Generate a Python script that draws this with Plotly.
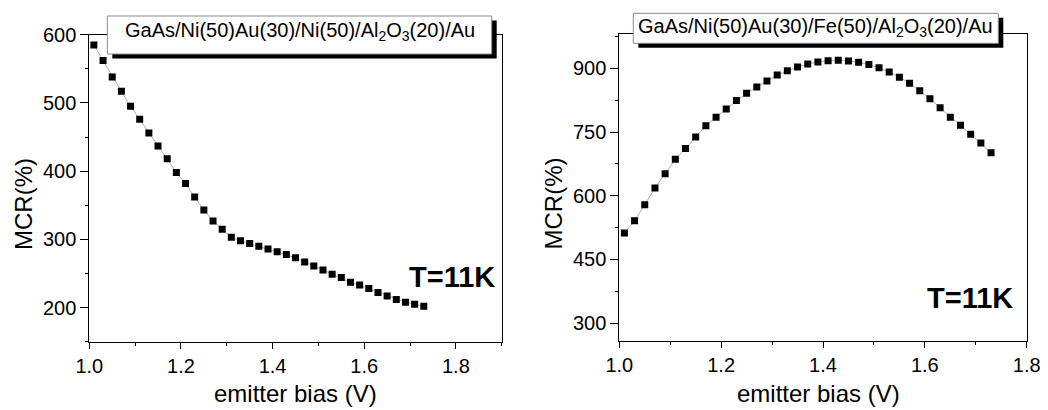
import plotly.graph_objects as go

W, H = 1048, 410

bias_left = [round(1.01 + 0.02 * i, 2) for i in range(37)]
mcr_left = [585, 562, 538, 517, 495, 476, 456, 437, 418, 398, 382, 362, 343, 327,
            315, 303, 298, 294, 290, 286, 282, 278, 273, 267, 261, 255, 249, 244,
            237, 233, 228, 222, 217, 212, 208, 205, 202]

bias_right = [round(1.01 + 0.02 * i, 2) for i in range(37)]
mcr_right = [512, 541, 579, 618, 652, 686, 711, 738, 765, 785, 804, 824, 841, 856,
             870, 884, 894, 903, 910, 915, 918, 919, 917, 914, 909, 901, 891, 879,
             865, 847, 828, 807, 785, 766, 745, 724, 701]

title_left = "GaAs/Ni(50)Au(30)/Ni(50)/Al<sub>2</sub>O<sub>3</sub>(20)/Au"
title_right = "GaAs/Ni(50)Au(30)/Fe(50)/Al<sub>2</sub>O<sub>3</sub>(20)/Au"
temp_label = "<b>T=11K</b>"
x_title = "emitter bias (V)"
y_title = "MCR(%)"

FONT = "Liberation Sans, Arial, sans-serif"

# the page body adds an 8px margin; compensate so screen positions match
OFF = 8


def px(x):
    return (x - OFF) / W


def py(y):
    return 1 - (y - OFF) / H


fig = go.Figure()
for xs, ys, xa, ya in [(bias_left, mcr_left, "x", "y"), (bias_right, mcr_right, "x2", "y2")]:
    fig.add_trace(go.Scatter(
        x=xs, y=ys, xaxis=xa, yaxis=ya, mode="lines+markers",
        line=dict(color="#9a9a9a", width=0.8),
        marker=dict(symbol="square", size=7, color="black", line=dict(width=0)),
        showlegend=False,
    ))

axis_common = dict(
    showline=True, linecolor="black", linewidth=1, mirror=True, automargin=False,
    showgrid=False, zeroline=False, ticks="outside", tickcolor="black",
    tickwidth=1, tickfont=dict(family=FONT, size=20, color="black"),
)

fig.update_layout(
    template="none",
    width=W, height=H,
    margin=dict(l=0, r=0, t=0, b=0, pad=0),
    paper_bgcolor="white", plot_bgcolor="white",
    xaxis=dict(domain=[px(89.3), px(501.7)], range=[1.0, 1.9], tick0=1.0, dtick=0.2,
               ticklen=6, tickformat=".1f",
               minor=dict(dtick=0.1, tick0=1.0, ticks="outside", ticklen=3, tickcolor="black"),
               anchor="y", **axis_common),
    yaxis=dict(domain=[py(341.7), py(34.7)], range=[150, 600], tick0=200, dtick=100,
               ticklen=8,
               minor=dict(dtick=50, tick0=150, ticks="outside", ticklen=3, tickcolor="black"),
               anchor="x", **axis_common),
    xaxis2=dict(domain=[px(619.3), px(1026.7)], range=[1.0, 1.8], tick0=1.0, dtick=0.2,
                ticklen=6, tickformat=".1f",
                minor=dict(dtick=0.1, tick0=1.0, ticks="outside", ticklen=3, tickcolor="black"),
                anchor="y2", **axis_common),
    yaxis2=dict(domain=[py(341), py(34.3)], range=[258, 980], tick0=300, dtick=150,
                ticklen=8,
                minor=dict(dtick=75, tick0=300, ticks="outside", ticklen=3, tickcolor="black"),
                anchor="x2", **axis_common),
)

shapes = []
annotations = []
# title boxes with drop shadow
for (x0, y0, x1, y1, txt, cy) in [
    (107.3, 16, 491.7, 54, title_left, 31),
    (633.3, 13.3, 998.3, 43.3, title_right, 27),
]:
    shapes.append(dict(type="rect", xref="paper", yref="paper",
                       x0=px(x0 + 5), x1=px(x1 + 5), y0=py(y1 + 4.5), y1=py(y0 + 4.5),
                       fillcolor="black", line=dict(width=0), layer="above"))
    shapes.append(dict(type="rect", xref="paper", yref="paper",
                       x0=px(x0), x1=px(x1), y0=py(y1), y1=py(y0),
                       fillcolor="white", line=dict(color="#8a8a8a", width=1), layer="above"))
    annotations.append(dict(xref="paper", yref="paper", x=px((x0 + x1) / 2), y=py(cy),
                            xanchor="center", yanchor="middle", showarrow=False, text=txt,
                            font=dict(family=FONT, size=20, color="black")))

# temperature labels
for (cx, cy) in [(452, 277), (970, 297.5)]:
    annotations.append(dict(xref="paper", yref="paper", x=px(cx), y=py(cy),
                            xanchor="center", yanchor="middle", showarrow=False,
                            text=temp_label, font=dict(family=FONT, size=29, color="black")))

# axis titles
for cx in [295.5, 818]:
    annotations.append(dict(xref="paper", yref="paper", x=px(cx), y=py(393),
                            xanchor="center", yanchor="middle", showarrow=False,
                            text=x_title, font=dict(family=FONT, size=24, color="black")))
for cx in [23, 552.5]:
    annotations.append(dict(xref="paper", yref="paper", x=px(cx), y=py(204),
                            xanchor="center", yanchor="middle", showarrow=False,
                            textangle=-90, text=y_title,
                            font=dict(family=FONT, size=24, color="black")))

fig.update_layout(shapes=shapes, annotations=annotations)
fig.write_html("out.html")
